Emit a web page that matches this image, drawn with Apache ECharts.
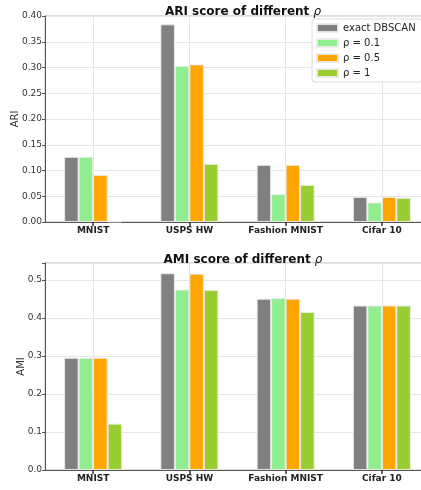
<!DOCTYPE html>
<html><head><meta charset="utf-8">
<script src="https://cdn.jsdelivr.net/npm/echarts@6/dist/echarts.min.js"></script>
<style>html,body{margin:0;padding:0;background:#fff}#c{width:421px;height:490px}</style>
</head><body><div id="c"></div>
<script>
const categories = ['MNIST', 'USPS HW', 'Fashion MNIST', 'Cifar 10'];
const seriesNames = ['exact DBSCAN', 'ρ = 0.1', 'ρ = 0.5', 'ρ = 1'];
const colors = ['#808080', '#90EE90', '#FFA500', '#9ACD32'];
const ariExact = [0.1266, 0.3838, 0.111, 0.0487];
const ariRho01 = [0.1266, 0.303, 0.054, 0.038];
const ariRho05 = [0.0916, 0.306, 0.111, 0.0487];
const ariRho1  = [0.001, 0.113, 0.072, 0.047];
const amiExact = [0.2956, 0.518, 0.451, 0.433];
const amiRho01 = [0.2956, 0.475, 0.4526, 0.433];
const amiRho05 = [0.2956, 0.517, 0.451, 0.433];
const amiRho1  = [0.122, 0.474, 0.416, 0.433];
const ariTicks = { min: 0, max: 0.40, interval: 0.05, decimals: 2 };
const amiTicks = { min: 0, max: 0.545, interval: 0.1, decimals: 1 };

const FONT = 'DejaVu Sans';
const chart = echarts.init(document.getElementById('c'), null, { renderer: 'canvas' });

function yAxis(idx, t, name, gap) {
  return {
    type: 'value', gridIndex: idx, min: t.min, max: t.max, interval: t.interval,
    name: name, nameLocation: 'middle', nameGap: gap, nameMoveOverlap: false,
    nameTextStyle: { fontFamily: FONT, fontSize: 10, color: '#333' },
    axisLine: { show: true, lineStyle: { color: '#555', width: 1 } },
    axisTick: { show: true, length: 3, lineStyle: { color: '#555' } },
    axisLabel: {
      fontFamily: FONT, fontSize: 9, color: '#333', margin: 3,
      formatter: v => {
        const k = Math.round(v / t.interval);
        if (Math.abs(k * t.interval - v) > 1e-6) return '';
        return v.toFixed(t.decimals);
      }
    },
    splitLine: { show: true, lineStyle: { color: '#e6e6e6', width: 1 } }
  };
}
function xAxis(idx) {
  return {
    type: 'category', gridIndex: idx, data: categories,
    axisLine: { show: true, lineStyle: { color: '#555', width: 1 } },
    axisTick: { show: true, alignWithLabel: true, length: 4, lineStyle: { color: '#333', width: 1.5 } },
    axisLabel: { interval: 0, fontFamily: FONT, fontSize: 9, fontWeight: 'bold', color: '#222', margin: 4 },
    splitLine: { show: true, alignWithLabel: true, interval: 0, lineStyle: { color: '#e6e6e6', width: 1 } }
  };
}
function titleOf(text, top) {
  return {
    text: '{b|' + text + ' }{i|ρ}', left: 238, top: top, textAlign: 'center',
    textStyle: {
      fontWeight: 'normal',
      rich: {
        b: { fontFamily: FONT, fontSize: 12, fontWeight: 'bold', color: '#111' },
        i: { fontFamily: FONT, fontSize: 12, fontWeight: 'normal', fontStyle: 'italic', color: '#111' }
      }
    }
  };
}
const ariData = [ariExact, ariRho01, ariRho05, ariRho1];
const amiData = [amiExact, amiRho01, amiRho05, amiRho1];
const series = [];
[ariData, amiData].forEach((set, g) => {
  set.forEach((d, i) => {
    series.push({
      type: 'bar', name: seriesNames[i], xAxisIndex: g, yAxisIndex: g, data: d,
      barWidth: 14.5, barGap: '0%',
      itemStyle: { color: colors[i], borderColor: 'rgba(235,235,235,0.9)', borderWidth: 1 }
    });
  });
});

chart.setOption({
  animation: false,
  backgroundColor: '#fff',
  title: [titleOf('ARI score of different', 1), titleOf('AMI score of different', 249)],
  legend: {
    data: seriesNames, orient: 'vertical', left: 312, top: 19,
    itemWidth: 21, itemHeight: 8, itemGap: 3, padding: [3, 6, 3, 4],
    backgroundColor: 'rgba(255,255,255,0.85)', borderColor: '#dcdcdc', borderWidth: 1, borderRadius: 3,
    icon: 'rect',
    textStyle: { fontFamily: FONT, fontSize: 10, color: '#222', lineHeight: 12 }
  },
  grid: [
    { left: 45, top: 16, width: 385, height: 206, show: true, borderColor: '#bbb', borderWidth: 1, outerBoundsMode: 'none', containLabel: false },
    { left: 45, top: 263, width: 385, height: 207, show: true, borderColor: '#bbb', borderWidth: 1, outerBoundsMode: 'none', containLabel: false }
  ],
  xAxis: [xAxis(0), xAxis(1)],
  yAxis: [yAxis(0, ariTicks, 'ARI', 25), yAxis(1, amiTicks, 'AMI', 19)],
  series: series
});
</script></body></html>
